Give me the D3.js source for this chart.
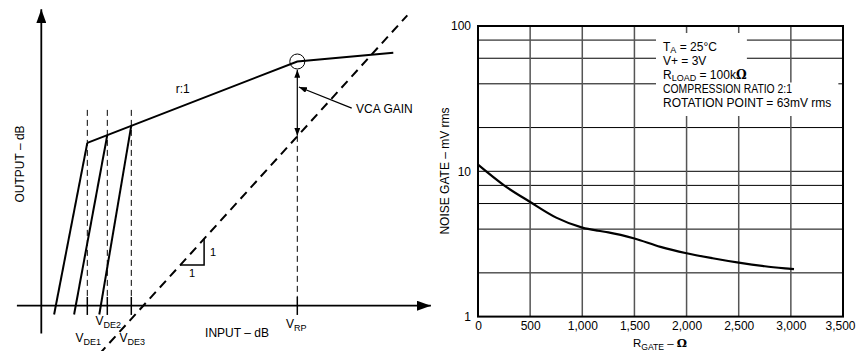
<!DOCTYPE html>
<html>
<head>
<meta charset="utf-8">
<script src="https://cdn.jsdelivr.net/npm/d3@7"></script>
<style>
  body { margin: 0; background: #fff; }
  svg { display: block; font-family: "Liberation Sans", Arial, sans-serif; }
</style>
</head>
<body>
<svg id="chart" width="856" height="351"></svg>
<script>
// ---- left diagram data (input dB / output dB, schematic units) ----
const gateIn = [11.5, 16.5, 22.5];          // V_DE1..3 thresholds
const gateOut = [37, 38.8, 41];             // where each expander slope meets the r:1 line
const gateStartIn = [3.2, 8.2, 14.5];       // expander slopes start just under the axis
const gateStartOut = -2;
const gateNames = ["DE1", "DE2", "DE3"];
const compIn = [11.5, 64, 88];              // compressor line: knee, rotation point, end
const compOut = [37, 55.5, 57.5];
const unityIn = [14.5, 91.5];               // 1:1 reference line
const unityOut = [-11, 66];
const rpIn = 64;                            // rotation point input
const gainTop = 53.6, gainBottom = 38.6;    // VCA GAIN arrow span

// ---- right chart data ----
const rGate = [0, 250, 500, 750, 1000, 1150, 1250, 1500, 1750, 2000, 2250, 2500, 2750, 3000, 3030];
const noiseGate = [11.1, 8.0, 6.15, 4.8, 4.1, 3.9, 3.8, 3.45, 3.02, 2.73, 2.52, 2.35, 2.22, 2.13, 2.12];
const xTicks = [0, 500, 1000, 1500, 2000, 2500, 3000, 3500];
const yGrid = [1, 2, 4, 6, 8, 10, 20, 40, 60, 80, 100];
const yLabels = [1, 10, 100];
const legendLines = [
  [["T", 0], ["A", 1], [" = 25°C", 0]],
  [["V+ = 3V", 0]],
  [["R", 0], ["LOAD", 1], ["  = 100k", 0], ["Ω", 2]],
  [["COMPRESSION RATIO 2:1", 0]],
  [["ROTATION POINT = 63mV rms", 0]]
];

const svg = d3.select("#chart");

const defs = svg.append("defs");
function arrowMarker(id, len, half) {
  defs.append("marker")
    .attr("id", id)
    .attr("markerUnits", "userSpaceOnUse")
    .attr("viewBox", `0 0 ${len} ${half * 2}`)
    .attr("markerWidth", len)
    .attr("markerHeight", half * 2)
    .attr("refX", len)
    .attr("refY", half)
    .attr("orient", "auto-start-reverse")
    .append("path")
    .attr("d", `M0,0L${len},${half}L0,${half * 2}Z`)
    .attr("fill", "#000");
}
arrowMarker("bigArrow", 14, 5);
arrowMarker("smallArrow", 8, 3);

// ================= LEFT: transfer curve =================
const x = d3.scaleLinear().domain([0, 100]).range([41.3, 441.3]);
const y = d3.scaleLinear().domain([0, 70]).range([305.7, 305.7 - 70 * 4.4]);
const left = svg.append("g");
const line = d3.line().x(d => x(d[0])).y(d => y(d[1]));

// axes
left.append("line")
  .attr("x1", x(0)).attr("y1", y(-6.3))
  .attr("x2", x(0)).attr("y2", y(67.4))
  .attr("stroke", "#000").attr("stroke-width", 1.8)
  .attr("marker-end", "url(#bigArrow)");
left.append("line")
  .attr("x1", x(-6.1)).attr("y1", y(0))
  .attr("x2", x(97.4)).attr("y2", y(0))
  .attr("stroke", "#000").attr("stroke-width", 1.8)
  .attr("marker-end", "url(#bigArrow)");

// dashed verticals at thresholds and rotation point
gateIn.forEach(g => {
  left.append("line")
    .attr("x1", x(g)).attr("x2", x(g))
    .attr("y1", y(44.5)).attr("y2", y(2))
    .attr("stroke", "#000").attr("stroke-width", 1)
    .attr("stroke-dasharray", "6,4");
});
left.append("line")
  .attr("x1", x(rpIn)).attr("x2", x(rpIn))
  .attr("y1", y(gainBottom)).attr("y2", y(2))
  .attr("stroke", "#000").attr("stroke-width", 1)
  .attr("stroke-dasharray", "6,4");

// tick marks
gateIn.concat([rpIn]).forEach(g => {
  left.append("line")
    .attr("x1", x(g)).attr("x2", x(g))
    .attr("y1", y(2)).attr("y2", y(-2.1))
    .attr("stroke", "#000").attr("stroke-width", 1.5);
});

// 1:1 line
left.append("path")
  .attr("d", line(d3.zip(unityIn, unityOut)))
  .attr("fill", "none").attr("stroke", "#000")
  .attr("stroke-width", 2).attr("stroke-dasharray", "9,6");

// slope triangle
left.append("path")
  .attr("d", line([[34.7, 9.25], [40.7, 9.25], [40.7, 15.2]]))
  .attr("fill", "none").attr("stroke", "#000").attr("stroke-width", 1.5);

// expander slopes
gateIn.forEach((g, i) => {
  left.append("path")
    .attr("d", line([[gateStartIn[i], gateStartOut], [g, gateOut[i]]]))
    .attr("stroke", "#000").attr("stroke-width", 2);
});

// compressor line
left.append("path")
  .attr("d", line(d3.zip(compIn, compOut)))
  .attr("fill", "none").attr("stroke", "#000").attr("stroke-width", 2);

// rotation point circle
left.append("circle")
  .attr("cx", x(rpIn)).attr("cy", y(compOut[1]))
  .attr("r", 7.5)
  .attr("fill", "none").attr("stroke", "#000").attr("stroke-width", 1);

// VCA gain arrows
left.append("line")
  .attr("x1", x(rpIn)).attr("x2", x(rpIn))
  .attr("y1", y(gainTop)).attr("y2", y(gainBottom))
  .attr("stroke", "#000").attr("stroke-width", 1.2)
  .attr("marker-start", "url(#smallArrow)")
  .attr("marker-end", "url(#smallArrow)");
left.append("line")
  .attr("x1", x(77.6)).attr("y1", y(44.9))
  .attr("x2", x(64.4)).attr("y2", y(49.7))
  .attr("stroke", "#000").attr("stroke-width", 1.2)
  .attr("marker-end", "url(#smallArrow)");

// text with optional subscript parts: 0 normal, 1 subscript, 2 omega glyph
function subText(g, px, py, parts, size, anchor, subDy) {
  const drop = subDy == null ? 3 : subDy;
  const t = g.append("text")
    .attr("x", px).attr("y", py)
    .attr("font-size", size)
    .attr("text-anchor", anchor || "start");
  let shift = 0;
  parts.forEach(p => {
    const s = t.append("tspan").text(p[0]);
    const want = p[1] === 1 ? drop : 0;
    if (p[1] === 1) s.attr("font-size", size * 0.75);
    if (p[1] === 2) s.attr("font-family", "DejaVu Serif, serif").attr("font-weight", "bold");
    s.attr("dy", want - shift);
    shift = want;
  });
  return t;
}

left.append("text")
  .attr("x", x(78.7)).attr("y", y(43.7))
  .attr("font-size", 12).text("VCA GAIN");
left.append("text")
  .attr("x", x(33.6)).attr("y", y(48.3))
  .attr("font-size", 12).text("r:1");
left.append("text")
  .attr("x", x(42.2)).attr("y", y(11.3))
  .attr("font-size", 11).text("1");
left.append("text")
  .attr("x", x(37.7)).attr("y", y(6.6))
  .attr("font-size", 11).attr("text-anchor", "middle").text("1");

gateIn.forEach((g, i) => {
  const py = i === 1 ? 325 : 342;
  subText(left, x(g) + 1, py, [["V", 0], [gateNames[i], 1]], 12, "middle");
});
subText(left, x(rpIn) - 1, 328, [["V", 0], ["RP", 1]], 12, "middle");

left.append("text")
  .attr("x", 237).attr("y", 337)
  .attr("font-size", 12).attr("text-anchor", "middle")
  .text("INPUT – dB");
left.append("text")
  .attr("transform", "translate(24,164) rotate(-90)")
  .attr("font-size", 12).attr("text-anchor", "middle")
  .text("OUTPUT – dB");

// ================= RIGHT: noise gate vs R_GATE =================
const xr = d3.scaleLinear().domain([0, 3500]).range([478, 843]);
const yr = d3.scaleLog().domain([1, 100]).range([316.6, 26]);
const right = svg.append("g");

right.selectAll("line.h")
  .data(yGrid.slice(1, -1))
  .enter().append("line")
  .attr("class", "h")
  .attr("x1", xr(0)).attr("x2", xr(3500))
  .attr("y1", d => yr(d)).attr("y2", d => yr(d))
  .attr("stroke", "#000").attr("stroke-width", 1);

right.selectAll("line.v")
  .data(xTicks.slice(1, -1))
  .enter().append("line")
  .attr("class", "v")
  .attr("x1", d => xr(d)).attr("x2", d => xr(d))
  .attr("y1", yr(100)).attr("y2", yr(1))
  .attr("stroke", "#555").attr("stroke-width", 1.5);

// legend block with white background
const legend = right.append("g");
const lgX = 663, lgY0 = 50.5, lgStep = 14;
const lgTexts = legendLines.map((parts, i) => {
  const t = subText(legend, lgX, lgY0 + i * lgStep, parts, 12, "start", 2);
  if (i === 3) t.attr("textLength", 129).attr("lengthAdjust", "spacingAndGlyphs");
  return t;
});
function boxFor(list) {
  const bb = list.map(t => t.node().getBBox());
  return {
    x0: d3.min(bb, b => b.x), x1: d3.max(bb, b => b.x + b.width),
    y0: d3.min(bb, b => b.y), y1: d3.max(bb, b => b.y + b.height)
  };
}
const b1 = boxFor(lgTexts.slice(0, 3));
const b2 = boxFor(lgTexts.slice(3));
const split = (b1.y1 + b2.y0) / 2 + 1;
legend.insert("rect", "text")
  .attr("x", lgX - 7).attr("y", 33)
  .attr("width", b1.x1 - lgX + 7).attr("height", split - 33)
  .attr("fill", "#fff");
legend.insert("rect", "text")
  .attr("x", lgX - 7).attr("y", split - 0.5)
  .attr("width", b2.x1 - lgX + 14).attr("height", b2.y1 + 7 - split)
  .attr("fill", "#fff");

right.append("rect")
  .attr("x", xr(0)).attr("y", yr(100))
  .attr("width", xr(3500) - xr(0)).attr("height", yr(1) - yr(100))
  .attr("fill", "none").attr("stroke", "#000").attr("stroke-width", 2);

right.append("path")
  .datum(d3.zip(rGate, noiseGate))
  .attr("d", d3.line().x(d => xr(d[0])).y(d => yr(d[1])).curve(d3.curveMonotoneX))
  .attr("fill", "none").attr("stroke", "#000").attr("stroke-width", 2.2);

right.append("g")
  .attr("transform", `translate(0,${yr(1)})`)
  .call(d3.axisBottom(xr).tickValues(xTicks).tickSize(0).tickPadding(5).tickFormat(d3.format(",")))
  .call(g => g.select(".domain").remove())
  .selectAll("text")
  .attr("font-size", 12).attr("font-family", "Liberation Sans, Arial, sans-serif").attr("fill", "#000")
  // last label sits at the right edge of the picture
  .filter(d => d === 3500)
  .attr("text-anchor", "end").attr("x", 855 - xr(3500));

right.append("g")
  .attr("transform", `translate(${xr(0)},0)`)
  .call(d3.axisLeft(yr).tickValues(yLabels).tickSize(0).tickPadding(7).tickFormat(d3.format("d")))
  .call(g => g.select(".domain").remove())
  .selectAll("text")
  .attr("font-size", 12).attr("font-family", "Liberation Sans, Arial, sans-serif").attr("fill", "#000");

subText(right, 660, 347, [["R", 0], ["GATE", 1], [" – ", 0], ["Ω", 2]], 11.5, "middle");
right.append("text")
  .attr("transform", "translate(449,171) rotate(-90)")
  .attr("font-size", 12).attr("text-anchor", "middle")
  .text("NOISE GATE – mV rms");
</script>
</body>
</html>
